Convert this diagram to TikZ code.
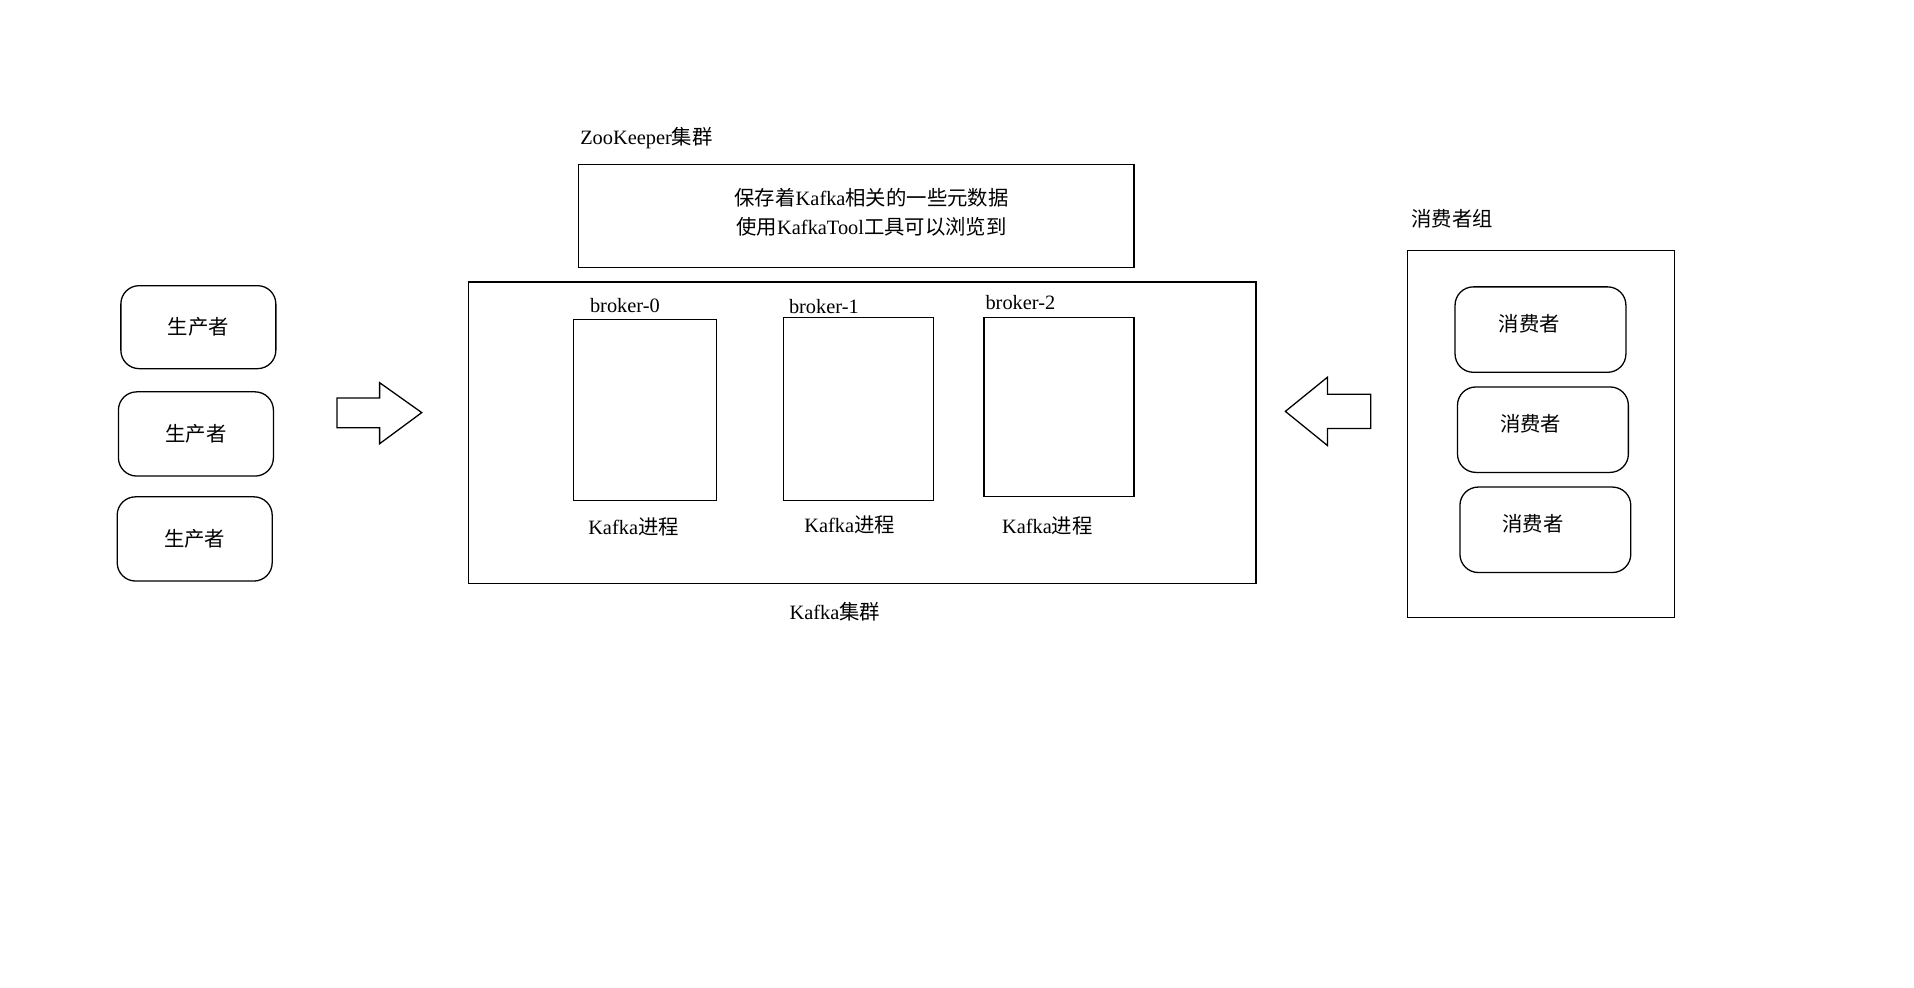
\documentclass[tikz,border=0pt]{standalone}
\usepackage{fontspec}
\setmainfont{Liberation Serif}
\newfontfamily\cjk{Noto Sans CJK SC}

\begin{document}
\begin{tikzpicture}[x=0.02cm, y=-0.02cm, line width=0.6pt,
  every node/.style={font=\fontsize{9.5pt}{13.6pt}\selectfont},
  box/.style={draw, inner sep=0pt},
  client/.style={box, rounded corners=0.3cm}]

  \useasboundingbox (0,0) rectangle (1568,809);

  % --- ZooKeeper ---
  \node[anchor=west] (zklabel) at (469,113) {ZooKeeper{\cjk 集群}};
  \node[box, minimum width=9.1cm, minimum height=1.68cm] (zk) at (701.5,177) {};
  \node[align=center] (zkinfo) at (714,174)
    {{\cjk 保存着}Kafka{\cjk 相关的一些元数据}\\{\cjk 使用}KafkaTool{\cjk 工具可以浏览到}};

  % --- Kafka cluster ---
  \node[box, minimum width=12.9cm, minimum height=4.94cm] (kafka) at (706.5,354.5) {};
  \node (kafkalabel) at (684,501) {Kafka{\cjk 集群}};

  % --- broker 0 ---
  \node[box, minimum width=2.34cm, minimum height=2.96cm] (b0) at (528.5,336) {};
  \node[anchor=west] (b0name) at (477,250) {broker-0};
  \node (b0proc) at (519,432) {Kafka{\cjk 进程}};

  % --- broker 1 ---
  \node[box, minimum width=2.46cm, minimum height=3cm] (b1) at (703.5,335) {};
  \node[anchor=west] (b1name) at (640,251) {broker-1};
  \node (b1proc) at (696,430) {Kafka{\cjk 进程}};

  % --- broker 2 ---
  \node[box, minimum width=2.46cm, minimum height=2.94cm] (b2) at (867.5,333.5) {};
  \node[anchor=west] (b2name) at (801,248) {broker-2};
  \node (b2proc) at (858,431) {Kafka{\cjk 进程}};

  % --- producers ---
  \node[client, minimum width=2.54cm, minimum height=1.36cm] (p1) at (162.5,268) {\cjk 生产者};
  \node[client, minimum width=2.54cm, minimum height=1.38cm] (p2) at (160.5,355.5) {\cjk 生产者};
  \node[client, minimum width=2.54cm, minimum height=1.38cm] (p3) at (159.5,441.5) {\cjk 生产者};

  % --- producers -> cluster (block arrow) ---
  \draw (276,326) -- (311,326) -- (311,313.5) -- (345.5,338) -- (311,363.5)
    -- (311,350.5) -- (276,350.5) -- cycle;

  % --- consumer group ---
  \node[anchor=west] (grouplabel) at (1150,179) {\cjk 消费者组};
  \node[box, minimum width=4.38cm, minimum height=6.02cm] (group) at (1262.5,355.5) {};
  \node[client, minimum width=2.8cm, minimum height=1.4cm,
    label={[shift={(-9,-5)}]center:\cjk 消费者}] (c1) at (1262,270) {};
  \node[client, minimum width=2.8cm, minimum height=1.4cm,
    label={[shift={(-10,-5)}]center:\cjk 消费者}] (c2) at (1264,352) {};
  \node[client, minimum width=2.8cm, minimum height=1.4cm,
    label={[shift={(-10,-5)}]center:\cjk 消费者}] (c3) at (1266,434) {};

  % --- cluster <- consumers (block arrow) ---
  \draw (1123,323) -- (1087.5,323) -- (1087.5,309) -- (1053,337) -- (1087.5,365)
    -- (1087.5,351) -- (1123,351) -- cycle;

\end{tikzpicture}
\end{document}
